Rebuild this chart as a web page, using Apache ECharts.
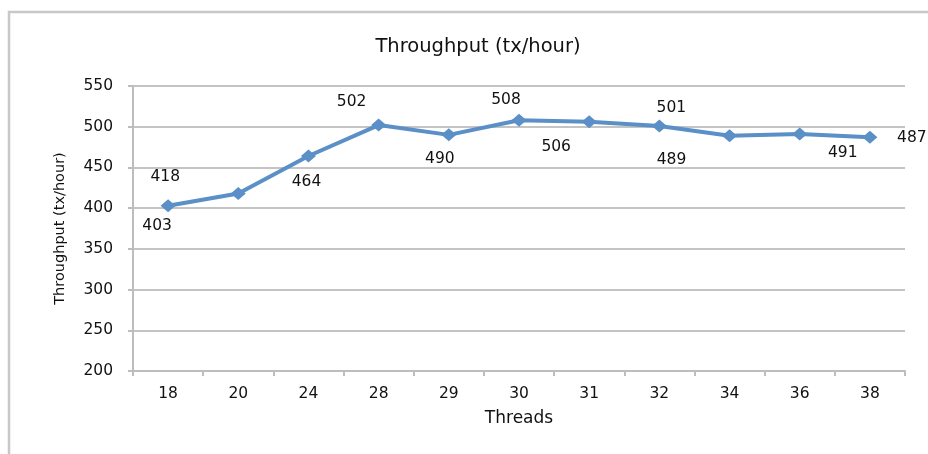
<!DOCTYPE html>
<html>
<head>
<meta charset="utf-8">
<script src="https://cdn.jsdelivr.net/npm/echarts@6/dist/echarts.min.js"></script>
<style>
html,body{margin:0;padding:0;background:#fff;}
#main{width:928px;height:454px;}
</style>
</head>
<body>
<div id="main"></div>
<script>
const categories = ['18', '20', '24', '28', '29', '30', '31', '32', '34', '36', '38'];
const throughput = [403, 418, 464, 502, 490, 508, 506, 501, 489, 491, 487];
const labelTexts = ['403', '418', '464', '502', '490', '508', '506', '501', '489', '491', '487'];
const yTicks = [200, 250, 300, 350, 400, 450, 500, 550];

// label placement (style), mimicking the original's offset data labels
const labelOffsets = [[-11, 20], [-73, -17], [-2, 26], [-27, -23], [-9, 24], [-13, -20], [-33, 25], [12, -18], [-58, 24], [43, 19], [42, 1]];

const chart = echarts.init(document.getElementById('main'));
const font = 'DejaVu Sans, Verdana, sans-serif';
const seriesData = throughput.map((v, i) => ({
  value: v,
  label: {
    show: true,
    position: 'inside',
    offset: labelOffsets[i],
    formatter: labelTexts[i],
    color: '#111',
    fontSize: 15.5,
    fontFamily: font
  }
}));

chart.setOption({
  animation: false,
  backgroundColor: '#fff',
  graphic: [{
    type: 'rect',
    shape: { x: 9, y: 12, width: 960, height: 500 },
    style: { fill: 'none', stroke: '#c8c8c8', lineWidth: 2.5 },
    silent: true
  }],
  title: {
    text: 'Throughput (tx/hour)',
    left: 473,
    textAlign: 'center',
    top: 32,
    textStyle: { fontFamily: font, fontSize: 19.5, fontWeight: 'normal', color: '#111' }
  },
  grid: { left: 133, right: 23, top: 86, bottom: 83, containLabel: false },
  xAxis: {
    type: 'category',
    data: categories,
    boundaryGap: true,
    name: 'Threads',
    nameLocation: 'middle',
    nameGap: 39,
    nameTextStyle: { fontFamily: font, fontSize: 17, color: '#111' },
    axisLine: { lineStyle: { color: '#bdbdbd', width: 2 } },
    axisTick: { show: true, length: 5, lineStyle: { color: '#bdbdbd', width: 2 } },
    axisLabel: { fontFamily: font, fontSize: 15.5, color: '#111', margin: 15 }
  },
  yAxis: {
    type: 'value',
    min: yTicks[0],
    max: yTicks[yTicks.length - 1],
    interval: 50,
    name: 'Throughput (tx/hour)',
    nameLocation: 'middle',
    nameGap: 65,
    nameTextStyle: { fontFamily: font, fontSize: 14.5, color: '#111' },
    axisLine: { show: true, lineStyle: { color: '#bdbdbd', width: 2 } },
    axisTick: { show: true, length: 5, lineStyle: { color: '#bdbdbd', width: 2 } },
    axisLabel: { fontFamily: font, fontSize: 15.5, color: '#111', margin: 20 },
    splitLine: { show: true, lineStyle: { color: '#c4c4c4', width: 2 } }
  },
  series: [{
    type: 'line',
    data: seriesData,
    symbol: 'diamond',
    symbolSize: [15, 13],
    lineStyle: { color: '#5a8fc7', width: 4 },
    itemStyle: { color: '#5a8fc7' }
  }]
});
</script>
</body>
</html>
